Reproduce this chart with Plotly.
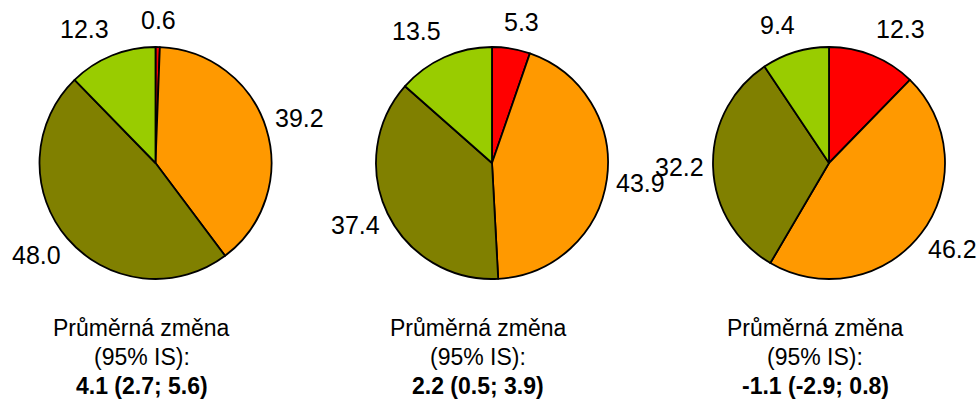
import math
import plotly.graph_objects as go

# Share of respondents in each category (percent), one pie per group
categories = ["Zhoršení", "Mírné zlepšení", "Zlepšení", "Výrazné zlepšení"]
colors = ["#FF0000", "#FF9900", "#808000", "#99CC00"]
group_a = [0.6, 39.2, 48.0, 12.3]
group_b = [5.3, 43.9, 37.4, 13.5]
group_c = [12.3, 46.2, 32.2, 9.4]
series = [group_a, group_b, group_c]

caption_head = ["Průměrná změna", "(95% IS):"]
mean_change = ["4.1 (2.7; 5.6)", "2.2 (0.5; 3.9)", "-1.1 (-2.9; 0.8)"]

# Layout (pixels)
W, H = 978, 401
centers_x = [155.5, 492.0, 829.0]
center_y = 163.0
radius = 116.0
label_gap = 125.0       # distance from centre to the label's inner edge
label_size = 25
caption_dx = -14.0
caption_y = [328.0, 357.0, 386.0]
FONT = "Liberation Sans, Arial, sans-serif"


def text_width(s, size):
    # rough Arial advance widths
    w = 0.0
    for ch in s:
        w += 0.278 if ch in ".,;:" else 0.556
    return w * size


fig = go.Figure()
annotations = []

for vals, cx, note in zip(series, centers_x, mean_change):
    fig.add_trace(go.Pie(
        values=vals,
        labels=categories,
        sort=False,
        direction="clockwise",
        rotation=0,
        marker=dict(colors=colors, line=dict(color="black", width=1.8)),
        textinfo="none",
        hoverinfo="label+value",
        showlegend=False,
        domain=dict(
            x=[(cx - radius) / W, (cx + radius) / W],
            y=[1 - (center_y + radius) / H, 1 - (center_y - radius) / H],
        ),
    ))
    # value labels outside each slice, pushed away from the pie by their box size
    total = sum(vals)
    cum = 0.0
    for v in vals:
        mid = (cum + v / 2) / total * 2 * math.pi
        cum += v
        s, c = math.sin(mid), math.cos(mid)
        txt = f"{v:.1f}"
        half_w = text_width(txt, label_size) / 2
        sx = max(-1.0, min(1.0, 3.0 * s))
        sy = max(-1.0, min(1.0, -1.5 * c))
        half_h = 18.0 if sy < 0 else 11.0
        px = cx + label_gap * s + half_w * sx
        py = center_y - label_gap * c + half_h * sy
        annotations.append(dict(
            x=px / W, y=1 - py / H, xref="paper", yref="paper",
            text=txt, showarrow=False,
            xanchor="center", yanchor="middle",
            font=dict(family=FONT, size=label_size, color="black"),
        ))
    # caption under the pie
    lines = caption_head + [f"<b>{note}</b>"]
    for text, ly in zip(lines, caption_y):
        annotations.append(dict(
            x=(cx + caption_dx) / W, y=1 - ly / H, xref="paper", yref="paper",
            text=text, showarrow=False,
            xanchor="center", yanchor="middle",
            font=dict(family=FONT, size=23, color="black"),
        ))

fig.update_layout(
    width=W, height=H,
    margin=dict(l=0, r=0, t=0, b=0),
    paper_bgcolor="white",
    plot_bgcolor="white",
    annotations=annotations,
)

fig.write_html("out.html")
